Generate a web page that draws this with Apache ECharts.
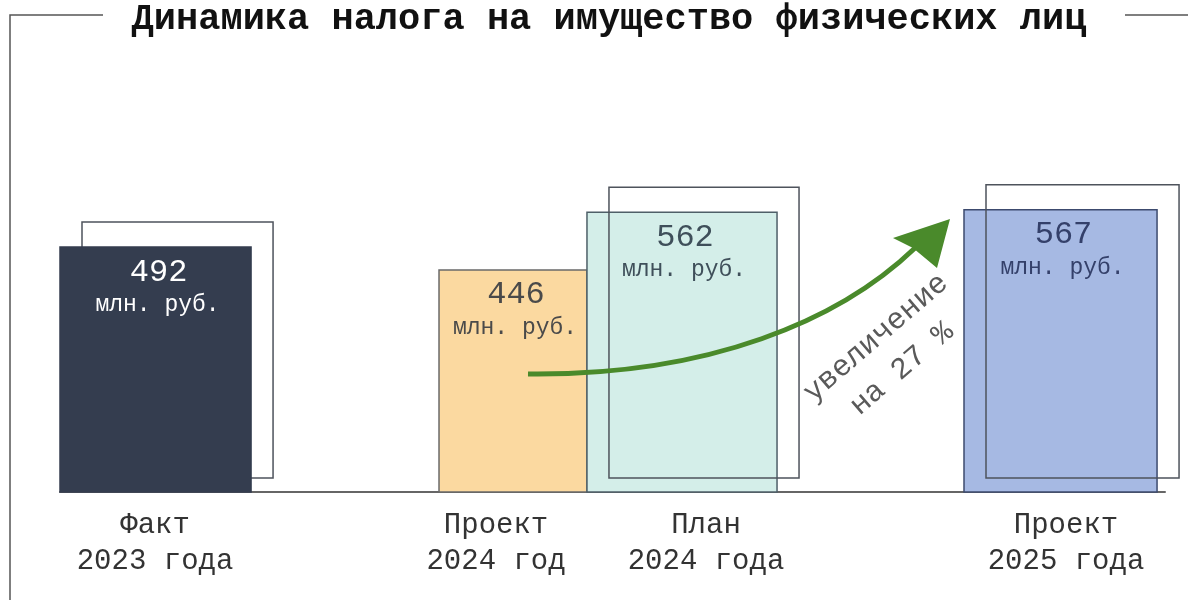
<!DOCTYPE html>
<html><head><meta charset="utf-8">
<script src="https://cdn.jsdelivr.net/npm/echarts@6/dist/echarts.min.js"></script>
<style>html,body{margin:0;padding:0;background:#fff}#c{width:1188px;height:600px}</style>
</head><body><div id="c"></div>
<script>
// ---- data ----
const categories = ['Факт\n2023 года', 'Проект\n2024 год', 'План\n2024 года', 'Проект\n2025 года'];
const values = [492, 446, 562, 567];
const valueUnit = 'млн. руб.';
const titleText = 'Динамика налога на имущество физических лиц';
const growthLines = ['увеличение', 'на 27 %'];

// ---- layout (x axis units 0..100 across the baseline) ----
const barLeft = [0, 34.3, 47.69, 81.81];
const barRight = [17.29, 47.69, 64.89, 99.28];
const labelCenter = [8.6, 39.46, 58.46, 91.04];
const hasFrame = [true, false, true, true];
const frameOnTop = [false, false, true, true];
const fills = ['#343d4f', '#fbd9a0', '#d4eee9', '#a6b9e3'];
const borders = ['#343d4f', '#6a6a6a', '#4e5f68', '#3c4a6e'];
const valueColors = ['#ffffff', '#4a4a4a', '#3f4f5a', '#34406a'];
const FONT = '"Liberation Mono", "DejaVu Sans Mono", monospace';

function renderItem(params, api) {
  const i = params.dataIndex;
  const v = api.value(1);
  const p0 = api.coord([barLeft[i], 0]);
  const p1 = api.coord([barRight[i], v]);
  const x = p0[0], w = p1[0] - p0[0], yTop = p1[1], yBase = p0[1];
  const cx = x + w / 2;
  const lc = api.coord([labelCenter[i], 0])[0];
  const ch = [];
  const bar = {type: 'rect', z2: 2, shape: {x: x, y: yTop, width: w, height: yBase - yTop},
     style: {fill: fills[i], stroke: borders[i], lineWidth: 1.5}};
  if (hasFrame[i]) {
    ch.push({type: 'rect', z2: frameOnTop[i] ? 5 : 1,
      shape: {x: x + 22, y: yTop - 25, width: w, height: (yBase - 14) - (yTop - 25)},
      style: {fill: null, stroke: '#4e535c', lineWidth: 1.5}});
  }
  ch.push(bar);
  ch.push({type: 'text', z2: 10, style: {text: String(v), x: cx + 3, y: yTop + 25, align: 'center', verticalAlign: 'middle',
    font: '32px ' + FONT, fill: valueColors[i]}});
  ch.push({type: 'text', z2: 10, style: {text: valueUnit, x: cx + 2, y: yTop + 58, align: 'center', verticalAlign: 'middle',
    font: '23px ' + FONT, fill: valueColors[i]}});
  ch.push({type: 'text', z2: 10, style: {text: categories[i], x: lc, y: yBase + 51, align: 'center', verticalAlign: 'middle',
    font: '29px ' + FONT, lineHeight: 36, fill: '#333333'}});
  return {type: 'group', children: ch};
}

const chart = echarts.init(document.getElementById('c'));
chart.setOption({
  backgroundColor: '#ffffff',
  animation: false,
  grid: {left: 60, right: 23, top: 44, bottom: 108},
  xAxis: {type: 'value', min: 0, max: 100, axisLine: {show: true, lineStyle: {color: '#666666', width: 2}},
    axisTick: {show: false}, axisLabel: {show: false}, splitLine: {show: false}},
  yAxis: {type: 'value', min: 0, max: 900, show: false, splitLine: {show: false}},
  series: [{
    type: 'custom', renderItem: renderItem, clip: false,
    data: values.map((v, i) => [i, v])
  }],
  graphic: [
    {type: 'polyline', shape: {points: [[103, 15], [10, 15], [10, 600]]}, style: {stroke: '#555', lineWidth: 1.5, fill: null}},
    {type: 'line', shape: {x1: 1125, y1: 15, x2: 1188, y2: 15}, style: {stroke: '#555', lineWidth: 1.5}},
    {type: 'text', style: {text: titleText, x: 609, y: 20, align: 'center', verticalAlign: 'middle',
      font: 'bold 37px ' + FONT, fill: '#111'}},
    {type: 'bezierCurve', z: 50, shape: {x1: 528, y1: 374, cpx1: 710, cpy1: 376, cpx2: 840, cpy2: 320, x2: 915, y2: 248},
      style: {stroke: '#4a8a2b', lineWidth: 5, fill: null}},
    {type: 'polygon', z: 50, shape: {points: [[950, 219], [893, 238], [913, 248], [937, 268]]},
      style: {fill: '#4a8a2b'}},
    {type: 'text', z: 50, x: 876, y: 338, rotation: 0.71, style: {text: growthLines[0], x: 0, y: 0, align: 'center', verticalAlign: 'middle',
      font: '30px ' + FONT, fill: '#5a5a5a'}},
    {type: 'text', z: 50, x: 902, y: 369, rotation: 0.71, style: {text: growthLines[1], x: 0, y: 0, align: 'center', verticalAlign: 'middle',
      font: '30px ' + FONT, fill: '#5a5a5a'}}
  ]
});
</script></body></html>
